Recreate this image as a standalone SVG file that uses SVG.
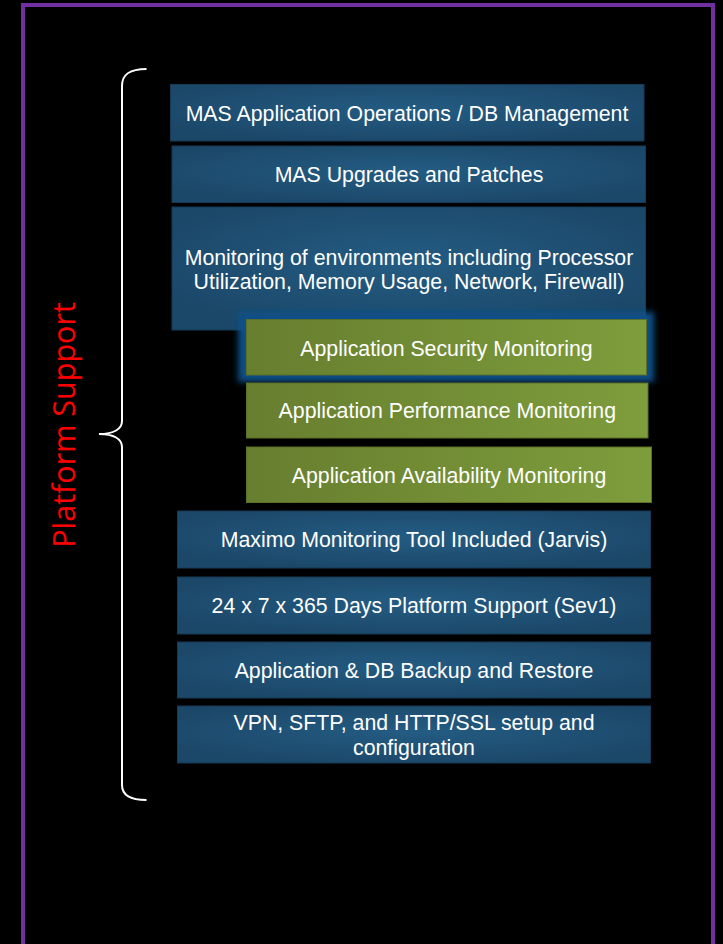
<svg xmlns="http://www.w3.org/2000/svg" width="723" height="944" viewBox="0 0 723 944">
<defs>
<style>
.bt{font-family:"Liberation Sans",Arial,sans-serif;font-size:21.3px;fill:#ffffff;text-anchor:middle}
.blue{fill:url(#gBlue);stroke:#163a55;stroke-width:1}
.green{fill:url(#gGreen);stroke:#5a6f28;stroke-width:1}
.brace{fill:none;stroke:#ffffff;stroke-width:2}
</style>
<radialGradient id="gBlue" cx="0.5" cy="0.45" r="0.6" gradientUnits="objectBoundingBox">
<stop offset="0" stop-color="#245c83"/>
<stop offset="1" stop-color="#1b4768"/>
</radialGradient>
<linearGradient id="gGreen" x1="0" y1="0" x2="1" y2="0">
<stop offset="0" stop-color="#677e2f"/>
<stop offset="1" stop-color="#7e9d3c"/>
</linearGradient>
<filter id="glow" x="-10%" y="-30%" width="120%" height="160%">
<feGaussianBlur stdDeviation="3"/>
</filter>
</defs>
<rect x="0" y="0" width="723" height="944" fill="#000000"/>
<rect x="23" y="5" width="690" height="980" fill="none" stroke="#7030a0" stroke-width="4"/>

<g id="label-platform-support">
<text x="75" y="425" transform="rotate(-90 75 425)" font-family="'Open Sans','DejaVu Sans',sans-serif" font-size="30.5" fill="#ff0000" text-anchor="middle">Platform Support</text>
</g>

<g id="brace">
<path class="brace" d="M146.5,69 C130,69 122,74 122,86 L122,421 C122,429 114,434 99,434 C114,434 122,439 122,447 L122,785 C122,795 130,800 146.5,800"/>
</g>

<g id="n-app-ops">
<rect class="blue" x="170.5" y="84.5" width="473.5" height="56.5"/>
<text class="bt" x="407" y="120.5">MAS Application Operations / DB Management</text>
</g>
<g id="n-upgrades">
<rect class="blue" x="172" y="146" width="473.5" height="56.5"/>
<text class="bt" x="409" y="182">MAS Upgrades and Patches</text>
</g>
<g id="n-monitoring-env">
<rect class="blue" x="172" y="207" width="473.5" height="123"/>
<text class="bt" x="409" y="264.5">Monitoring of environments including Processor</text>
<text class="bt" x="409" y="289">Utilization, Memory Usage, Network, Firewall)</text>
</g>
<g id="n-security">
<rect x="238" y="312" width="416" height="70" fill="#0a4f88" filter="url(#glow)"/>
<rect class="green" x="246.5" y="319.5" width="400" height="55.5"/>
<text class="bt" x="446.5" y="356">Application Security Monitoring</text>
</g>
<g id="n-performance">
<rect class="green" x="246.5" y="383" width="401.5" height="55"/>
<text class="bt" x="447.3" y="418">Application Performance Monitoring</text>
</g>
<g id="n-availability">
<rect class="green" x="246.5" y="447" width="405" height="55.5"/>
<text class="bt" x="449" y="483">Application Availability Monitoring</text>
</g>
<g id="n-jarvis">
<rect class="blue" x="177.5" y="511" width="473" height="57"/>
<text class="bt" x="414" y="547">Maximo Monitoring Tool Included (Jarvis)</text>
</g>
<g id="n-sev1">
<rect class="blue" x="177.5" y="577" width="473" height="57"/>
<text class="bt" x="414" y="613">24 x 7 x 365 Days Platform Support (Sev1)</text>
</g>
<g id="n-backup">
<rect class="blue" x="177.5" y="642" width="473" height="56"/>
<text class="bt" x="414" y="677.5">Application &amp; DB Backup and Restore</text>
</g>
<g id="n-vpn">
<rect class="blue" x="177.5" y="706" width="473" height="57"/>
<text class="bt" x="414" y="730">VPN, SFTP, and HTTP/SSL setup and</text>
<text class="bt" x="414" y="755">configuration</text>
</g>
<g id="connectors"></g>
</svg>
